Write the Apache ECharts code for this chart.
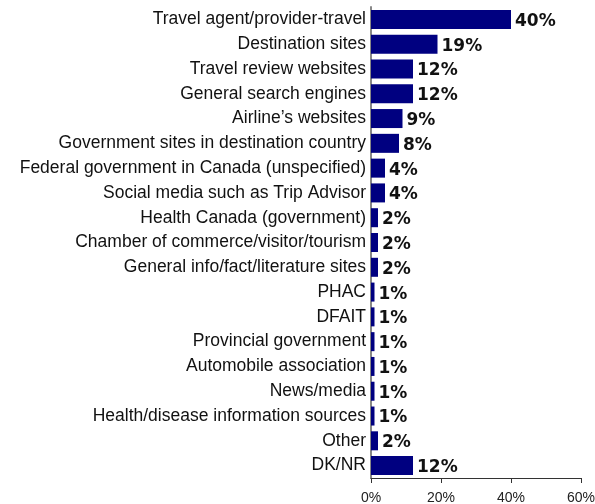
<!DOCTYPE html>
<html>
<head>
<meta charset="utf-8">
<script src="https://cdn.jsdelivr.net/npm/echarts@6/dist/echarts.min.js"></script>
<style>
  html, body { margin: 0; padding: 0; background: #ffffff; }
  #chart { width: 595px; height: 504px; }
</style>
</head>
<body>
<div id="chart"></div>
<script>
// Sources of travel health information, share of respondents (%)
const categories = [
  'Travel agent/provider-travel',
  'Destination sites',
  'Travel review websites',
  'General search engines',
  'Airline\u2019s websites',
  'Government sites in destination country',
  'Federal government in Canada (unspecified)',
  'Social media such as Trip Advisor',
  'Health Canada (government)',
  'Chamber of commerce/visitor/tourism',
  'General info/fact/literature sites',
  'PHAC',
  'DFAIT',
  'Provincial government',
  'Automobile association',
  'News/media',
  'Health/disease information sources',
  'Other',
  'DK/NR'
];
const values = [40, 19, 12, 12, 9, 8, 4, 4, 2, 2, 2, 1, 1, 1, 1, 1, 1, 2, 12];
const xTicks = [0, 20, 40, 60];

const chart = echarts.init(document.getElementById('chart'));
chart.setOption({
  animation: false,
  grid: {
    left: 371, right: 14, top: 7, bottom: 26,
    containLabel: false,
    outerBoundsMode: 'none'
  },
  xAxis: {
    type: 'value',
    min: xTicks[0],
    max: xTicks[xTicks.length - 1],
    interval: 20,
    axisLine: { show: true, lineStyle: { color: '#333333', width: 1 } },
    axisTick: { show: true, length: 5, lineStyle: { color: '#333333' } },
    splitLine: { show: false },
    axisLabel: {
      formatter: '{value}%',
      color: '#222',
      fontFamily: 'Liberation Sans, Arial, sans-serif',
      fontSize: 14,
      margin: 13
    }
  },
  yAxis: {
    type: 'category',
    data: categories,
    inverse: true,
    axisLine: { show: true, lineStyle: { color: '#888888', width: 2 } },
    axisTick: { show: false },
    axisLabel: {
      color: '#111',
      fontFamily: 'Liberation Sans, Arial, sans-serif',
      fontSize: 17.5,
      margin: 5
    }
  },
  series: [{
    type: 'bar',
    data: values,
    barWidth: 19,
    itemStyle: { color: '#000080' },
    label: {
      show: true,
      position: 'right',
      distance: 4,
      offset: [0, 2],
      formatter: '{c}%',
      color: '#111',
      fontFamily: 'DejaVu Sans, Verdana, sans-serif',
      fontWeight: 'bold',
      fontSize: 17
    }
  }]
});
</script>
</body>
</html>
